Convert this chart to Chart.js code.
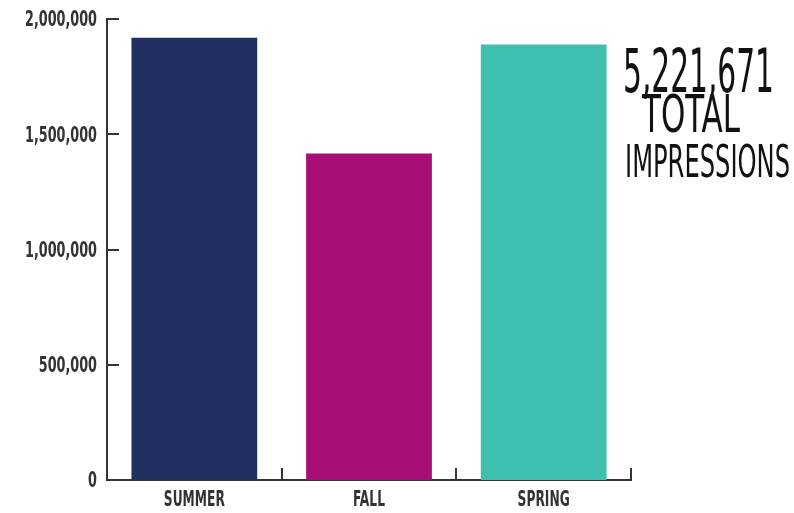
<!DOCTYPE html>
<html>
<head>
<meta charset="utf-8">
<script src="https://cdn.jsdelivr.net/npm/chart.js@4/dist/chart.umd.min.js"></script>
<style>
  html, body { margin: 0; padding: 0; background: #ffffff; }
  #wrap { width: 794px; height: 513px; position: relative; }
</style>
</head>
<body>
<div id="wrap"><canvas id="c" width="794" height="513"></canvas></div>
<script>
const categories = ["SUMMER", "FALL", "SPRING"];
const impressions = [1919000, 1416000, 1889000];
const barColors = ["#202f5f", "#a70e76", "#3fbfb0"];
const yTicks = [0, 500000, 1000000, 1500000, 2000000];
const totalLines = ["5,221,671", "TOTAL", "IMPRESSIONS"];

const narrow = '"DejaVu Sans Condensed", "Liberation Sans Narrow", "Liberation Sans", sans-serif';

function fitText(ctx, text, x, baseline, size, targetWidth) {
  ctx.save();
  ctx.font = size + 'px ' + narrow;
  const w = ctx.measureText(text).width;
  const s = targetWidth / w;
  ctx.translate(x, baseline);
  ctx.scale(s, 1);
  ctx.textAlign = 'left';
  ctx.textBaseline = 'alphabetic';
  ctx.fillText(text, 0, 0);
  ctx.restore();
}

function squeezed(ctx, font, text, x, y, sx, align, baseline) {
  ctx.save();
  ctx.font = font;
  ctx.translate(x, y);
  ctx.scale(sx, 1);
  ctx.textAlign = align;
  ctx.textBaseline = baseline;
  ctx.fillText(text, 0, 0);
  ctx.restore();
}

const fmt = (v) => Number(v).toLocaleString('en-US');

const decor = {
  id: 'decor',
  afterDraw(chart) {
    const { ctx, chartArea, scales } = chart;
    const x = scales.x, y = scales.y;
    ctx.save();
    ctx.strokeStyle = '#333333';
    ctx.lineWidth = 2;
    ctx.lineCap = 'butt';
    y.ticks.forEach((t, i) => {
      const py = Math.round(y.getPixelForTick(i));
      ctx.beginPath();
      ctx.moveTo(chartArea.left, py);
      ctx.lineTo(chartArea.left + 12, py);
      ctx.stroke();
    });
    const step = x.getPixelForValue(1) - x.getPixelForValue(0);
    for (let i = 0; i < categories.length; i++) {
      const px = Math.round(x.getPixelForValue(i) + step / 2);
      ctx.beginPath();
      ctx.moveTo(px, chartArea.bottom + 1);
      ctx.lineTo(px, chartArea.bottom - 12);
      ctx.stroke();
    }
    ctx.restore();

    // tick labels (condensed)
    ctx.save();
    ctx.fillStyle = '#333333';
    const yFont = 'bold 21px ' + narrow;
    ctx.font = yFont;
    const ySx = 72 / ctx.measureText(fmt(yTicks[yTicks.length - 1])).width;
    y.ticks.forEach((t, i) => {
      const py = y.getPixelForTick(i);
      const label = t.label !== undefined ? String(t.label) : fmt(t.value);
      squeezed(ctx, yFont, label, 97, py + 2, ySx, 'right', 'middle');
    });
    const xFont = 'bold 22px ' + narrow;
    ctx.font = xFont;
    const xSx = 61 / ctx.measureText(categories[0]).width;
    x.ticks.forEach((t, i) => {
      const px = x.getPixelForValue(i);
      const label = t.label !== undefined ? String(t.label) : categories[i];
      squeezed(ctx, xFont, label, px, 506, xSx, 'center', 'alphabetic');
    });
    ctx.restore();

    // total text
    ctx.save();
    ctx.fillStyle = '#111111';
    fitText(ctx, totalLines[0], 623, 92, 61, 151);
    fitText(ctx, totalLines[1], 642, 132, 51, 98);
    fitText(ctx, totalLines[2], 625, 177, 44, 165);
    ctx.restore();
  }
};

new Chart(document.getElementById('c'), {
  type: 'bar',
  data: {
    labels: categories,
    datasets: [{
      data: impressions,
      backgroundColor: barColors,
      borderWidth: 0,
      categoryPercentage: 1.0,
      barPercentage: 0.72
    }]
  },
  options: {
    responsive: false,
    animation: false,
    devicePixelRatio: 1,
    layout: { padding: { left: 0, right: 163, top: 19, bottom: 0 } },
    plugins: { legend: { display: false }, tooltip: { enabled: false } },
    scales: {
      x: {
        grid: { display: false, drawTicks: false },
        border: { display: true, color: '#333333', width: 2 },
        ticks: { display: false },
        afterFit(scale) { scale.height = 33; }
      },
      y: {
        min: 0,
        max: 2000000,
        afterBuildTicks(scale) { scale.ticks = yTicks.map(v => ({ value: v })); },
        grid: { display: false, drawTicks: false },
        border: { display: true, color: '#333333', width: 2 },
        ticks: { display: false, callback: fmt },
        afterFit(scale) { scale.width = 107; }
      }
    }
  },
  plugins: [decor]
});
</script>
</body>
</html>
